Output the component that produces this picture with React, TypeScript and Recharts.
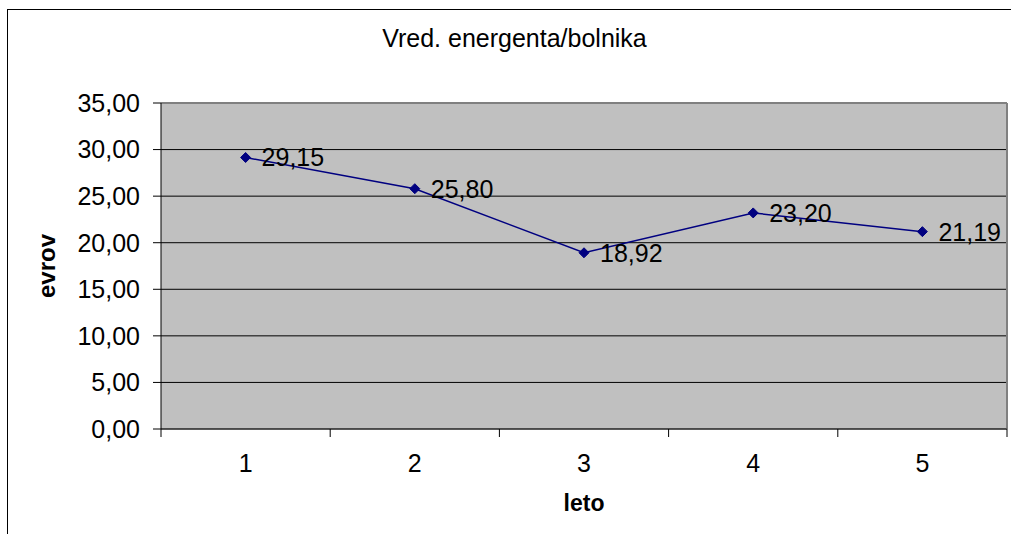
import React from 'react';
import {
  LineChart, Line, XAxis, YAxis, CartesianGrid, ReferenceLine, LabelList,
} from 'recharts';

const FONT = '"Liberation Sans", Arial, sans-serif';

// leto (year) 1..5 and value of energy per patient
const years = [1, 2, 3, 4, 5];
const values = [29.15, 25.8, 18.92, 23.2, 21.19];
const yTicks = [0, 5, 10, 15, 20, 25, 30, 35];
// ticks between categories are drawn as tick marks, integer ones as labels
const xTicks = [0.5, 1, 1.5, 2, 2.5, 3, 3.5, 4, 4.5, 5, 5.5];

const data = years.map((leto, i) => ({ leto, vred: values[i] }));

const fmt = (v: number) => v.toFixed(2).replace('.', ',');

const XTick = (props: any) => {
  const { x, y, payload } = props;
  const v = payload.value as number;
  if (!Number.isInteger(v)) {
    return <line x1={x} x2={x} y1={y} y2={y + 8} stroke="#000" strokeWidth={1} />;
  }
  return (
    <text x={x} y={y + 25} dy="0.71em" textAnchor="middle" fontSize={25} fontFamily={FONT} fill="#000">
      {v}
    </text>
  );
};

const Diamond = (props: any) => {
  const { cx, cy } = props;
  if (cx == null || cy == null) return null;
  const r = 5;
  return (
    <polygon
      points={`${cx},${cy - r} ${cx + r},${cy} ${cx},${cy + r} ${cx - r},${cy}`}
      fill="#000080"
      stroke="#000080"
    />
  );
};

const renderLabel = (props: any) => {
  const { x, y, value } = props;
  return (
    <text x={x + 16} y={y} dominantBaseline="central" fontSize={25} fontFamily={FONT} fill="#000">
      {fmt(Number(value))}
    </text>
  );
};

const YLabel = (props: any) => {
  const vb = props.viewBox;
  const cx = vb.x + 46;
  const cy = vb.y + vb.height / 2;
  return (
    <text
      x={cx}
      y={cy}
      transform={`rotate(-90 ${cx} ${cy})`}
      textAnchor="middle"
      dominantBaseline="central"
      fontSize={24}
      fontWeight="bold"
      fontFamily={FONT}
      fill="#000"
    >
      evrov
    </text>
  );
};

export default function App() {
  return (
    <div style={{ position: 'absolute', left: 0, top: 0, width: 1011, height: 534, overflow: 'hidden', background: '#fff' }}>
      <div
        style={{
          position: 'absolute', left: 7, top: 9, width: 1100, height: 600,
          borderLeft: '1px solid #000', borderTop: '1px solid #000',
        }}
      />
      <div
        style={{
          position: 'absolute', left: 0, top: 26, width: 1029, textAlign: 'center',
          fontFamily: FONT, fontSize: 25, lineHeight: '25px', color: '#000',
        }}
      >
        Vred. energenta/bolnika
      </div>
      <div style={{ position: 'absolute', left: 0, top: 0 }}>
        <LineChart width={1011} height={534} data={data} margin={{ top: 103, right: 4, bottom: 0, left: 0 }}>
          <CartesianGrid fill="#C0C0C0" vertical={false} stroke="#000" strokeOpacity={1} />
          <XAxis
            dataKey="leto"
            type="number"
            domain={[0.5, 5.5]}
            ticks={xTicks}
            interval={0}
            height={105}
            tickLine={false}
            tickSize={0}
            tickMargin={0}
            axisLine={{ stroke: '#333', strokeWidth: 1 }}
            tick={<XTick />}
            label={{ value: 'leto', position: 'insideBottom', offset: 23, fontSize: 23, fontWeight: 'bold', fontFamily: FONT, fill: '#000' }}
          />
          <YAxis
            domain={[0, 35]}
            ticks={yTicks}
            interval={0}
            width={161}
            tickFormatter={fmt}
            tickSize={8}
            tickMargin={13}
            tickLine={{ stroke: '#000' }}
            axisLine={{ stroke: '#000', strokeWidth: 1 }}
            tick={{ fontSize: 25, fontFamily: FONT, fill: '#000' }}
            label={<YLabel />}
          />
          <ReferenceLine y={35} stroke="#808080" strokeWidth={2} />
          <ReferenceLine x={5.5} stroke="#808080" strokeWidth={2} />
          <Line
            dataKey="vred"
            stroke="#000080"
            strokeWidth={1.5}
            dot={<Diamond />}
            activeDot={false}
            isAnimationActive={false}
          >
            <LabelList dataKey="vred" content={renderLabel} />
          </Line>
        </LineChart>
      </div>
    </div>
  );
}
